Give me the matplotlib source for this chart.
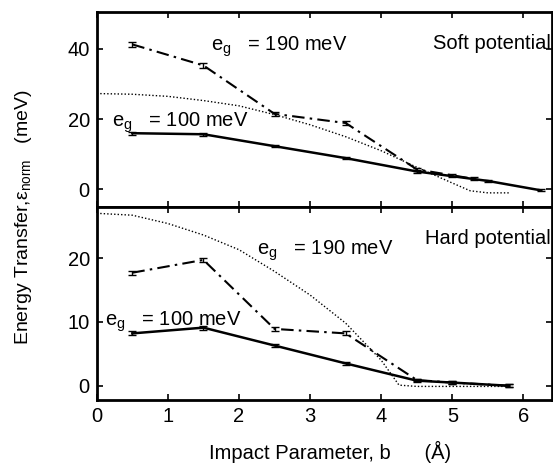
import matplotlib
matplotlib.use("Agg")
import matplotlib.pyplot as plt

plt.rcParams['font.family'] = ['Liberation Sans', 'DejaVu Sans']
plt.rcParams['mathtext.fontset'] = 'custom'
plt.rcParams['mathtext.rm'] = 'Liberation Sans'
plt.rcParams['mathtext.it'] = 'Liberation Sans'

# Soft potential
soft_x190 = [0.5, 1.5, 2.5, 3.5, 4.5, 5.0, 5.3]
soft_y190 = [41.3, 35.3, 21.5, 18.9, 5.7, 4.0, 3.0]
soft_e190 = [0.6, 0.6, 0.5, 0.5, 0.5, 0.4, 0.4]
soft_x100 = [0.5, 1.5, 2.5, 3.5, 4.5, 5.5, 6.25]
soft_y100 = [16.0, 15.7, 12.3, 8.9, 5.1, 2.4, -0.3]
soft_e100 = [0.4, 0.4, 0.3, 0.3, 0.3, 0.3, 0.3]
soft_dx = [0.0, 0.5, 1.0, 1.5, 2.0, 2.5, 3.0, 3.5, 4.0, 4.5, 5.0, 5.25, 5.5, 5.8]
soft_dy = [27.3, 27.1, 26.5, 25.3, 23.8, 21.3, 18.4, 15.0, 11.0, 6.3, 1.8, -0.4, -1.0, -1.0]

# Hard potential
hard_x190 = [0.5, 1.5, 2.5, 3.5, 4.5, 5.0, 5.8]
hard_y190 = [17.7, 19.7, 8.9, 8.2, 0.9, 0.5, 0.0]
hard_e190 = [0.3, 0.3, 0.3, 0.3, 0.2, 0.2, 0.2]
hard_x100 = [0.5, 1.5, 2.5, 3.5, 4.5, 5.0, 5.8]
hard_y100 = [8.2, 9.1, 6.3, 3.5, 0.8, 0.5, 0.0]
hard_e100 = [0.3, 0.3, 0.2, 0.2, 0.2, 0.2, 0.2]
hard_dx = [0.0, 0.5, 1.0, 1.5, 2.0, 2.5, 3.0, 3.5, 4.0, 4.25, 4.5, 5.0, 5.5, 5.8]
hard_dy = [27.0, 26.7, 25.4, 23.6, 21.3, 17.9, 14.2, 9.8, 4.0, 0.1, -0.1, -0.1, -0.1, -0.1]

fig = plt.figure(figsize=(5.53, 4.66), dpi=100)
ax1 = fig.add_axes([0.175, 0.556, 0.823, 0.418])
ax2 = fig.add_axes([0.175, 0.142, 0.823, 0.414])

FS = 14.5
for ax in (ax1, ax2):
    ax.set_xlim(0, 6.4)
    ax.set_xticks([0, 1, 2, 3, 4, 5, 6])
    ax.tick_params(direction='in', top=True, right=True, length=4, width=1.2,
                   labelsize=FS, pad=5)
    for s in ax.spines.values():
        s.set_linewidth(2)

def draw(ax, x190, y190, e190, x100, y100, e100, dx, dy):
    ax.plot(dx, dy, color='black', linestyle=(0, (1, 1.5)), linewidth=1.0)
    ax.errorbar(x190, y190, yerr=e190, color='black', linestyle=(0, (6, 2.5, 1.2, 2.5)),
                linewidth=1.5, capsize=3, elinewidth=1, capthick=1)
    ax.errorbar(x100, y100, yerr=e100, color='black', linestyle='-',
                linewidth=1.8, capsize=3, elinewidth=1, capthick=1)

draw(ax1, soft_x190, soft_y190, soft_e190, soft_x100, soft_y100, soft_e100, soft_dx, soft_dy)
draw(ax2, hard_x190, hard_y190, hard_e190, hard_x100, hard_y100, hard_e100, hard_dx, hard_dy)

ax1.set_ylim(-5, 50.5)
ax1.set_yticks([0, 20, 40])
ax1.set_xticklabels([])
ax2.set_ylim(-2.2, 28)
ax2.set_yticks([0, 10, 20])

lab190 = r'e$_\mathregular{g}$   = 190 meV'
lab100 = r'e$_\mathregular{g}$   = 100 meV'
ax1.text(1.6, 40.5, lab190, fontsize=FS, va='center')
ax1.text(0.22, 19.0, lab100, fontsize=FS, va='center')
ax1.text(6.38, 41.5, 'Soft potential', fontsize=FS, ha='right', va='center')
ax2.text(2.25, 21.2, lab190, fontsize=FS, va='center')
ax2.text(0.12, 10.0, lab100, fontsize=FS, va='center')
ax2.text(6.38, 23.0, 'Hard potential', fontsize=FS, ha='right', va='center')

fig.text(0.042, 0.535, r'Energy Transfer,ε$_\mathregular{norm}$   (meV)',
         rotation=90, fontsize=14, ha='center', va='center')
fig.text(0.597, 0.03, 'Impact Parameter, b      (Å)', fontsize=FS,
         ha='center', va='center')

fig.savefig('out.png', dpi=100)
